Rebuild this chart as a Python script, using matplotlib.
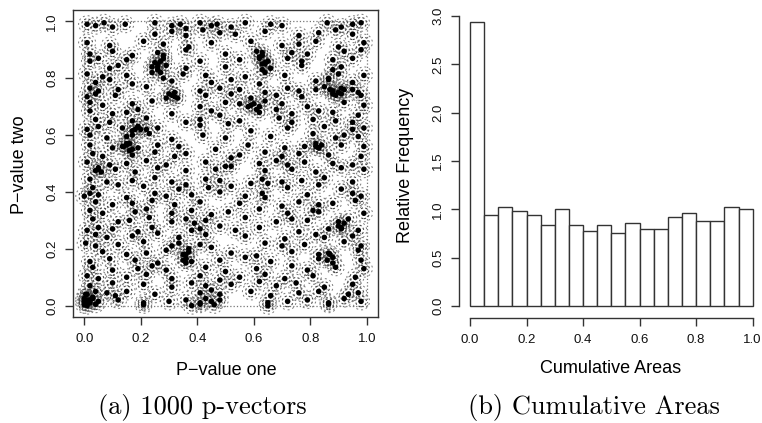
import numpy as np
import matplotlib
matplotlib.use("Agg")
import matplotlib.pyplot as plt

# (a) p-vectors (p-value one, p-value two of each dot)
row_p1 = [
    [0.01, 0.04, 0.07, 0.10, 0.145, 0.25, 0.31, 0.34, 0.36, 0.41, 0.45, 0.47, 0.52, 0.57, 0.66, 0.70, 0.86, 0.91, 0.95, 0.98],
    [0.25, 0.31, 0.36, 0.42, 0.48, 0.535, 0.64, 0.76, 0.83, 0.89, 0.95],
    [0.01, 0.09, 0.21, 0.28, 0.37, 0.45, 0.59, 0.70, 0.76, 0.82, 0.90, 0.99],
    [0.02, 0.10, 0.17, 0.26, 0.36, 0.50, 0.61, 0.63, 0.735, 0.79, 0.92, 0.98],
    [0.02, 0.05, 0.15, 0.25, 0.28, 0.41, 0.55, 0.62, 0.64, 0.72, 0.77, 0.88, 0.95],
    [0.09, 0.12, 0.24, 0.26, 0.29, 0.36, 0.50, 0.63, 0.66, 0.77, 0.88, 0.91],
    [0.01, 0.065, 0.15, 0.24, 0.28, 0.35, 0.43, 0.57, 0.64, 0.71, 0.865, 0.90, 0.99],
    [0.04, 0.09, 0.17, 0.31, 0.45, 0.52, 0.62, 0.82, 0.865, 0.95],
    [0.02, 0.05, 0.12, 0.22, 0.41, 0.48, 0.55, 0.64, 0.72, 0.76, 0.82, 0.85, 0.88, 0.91, 0.95, 0.97],
    [0.01, 0.04, 0.11, 0.29, 0.30, 0.32, 0.43, 0.52, 0.59, 0.68, 0.77, 0.88, 0.98],
    [0.02, 0.065, 0.17, 0.24, 0.41, 0.50, 0.55, 0.59, 0.64, 0.70, 0.79, 0.92, 0.99],
    [0.02, 0.10, 0.15, 0.19, 0.31, 0.45, 0.48, 0.62, 0.68, 0.735, 0.83, 0.88, 0.97],
    [0.04, 0.09, 0.17, 0.22, 0.36, 0.41, 0.51, 0.55, 0.69, 0.735, 0.81, 0.89, 0.95],
    [0.01, 0.05, 0.135, 0.17, 0.19, 0.22, 0.26, 0.41, 0.59, 0.72, 0.85, 0.95, 0.99],
    [0.02, 0.08, 0.15, 0.23, 0.31, 0.42, 0.50, 0.66, 0.81, 0.89, 0.92, 0.97],
    [0.02, 0.10, 0.135, 0.15, 0.19, 0.26, 0.335, 0.465, 0.58, 0.71, 0.78, 0.82, 0.83, 0.91, 0.99],
    [0.03, 0.065, 0.17, 0.25, 0.32, 0.36, 0.52, 0.55, 0.64, 0.70, 0.76, 0.865, 0.98],
    [0.01, 0.09, 0.15, 0.22, 0.29, 0.43, 0.50, 0.62, 0.68, 0.72, 0.78, 0.88, 0.95],
    [0.04, 0.05, 0.11, 0.18, 0.26, 0.36, 0.465, 0.52, 0.64, 0.735, 0.82, 0.91, 0.99],
    [0.02, 0.08, 0.17, 0.25, 0.31, 0.43, 0.48, 0.59, 0.63, 0.70, 0.77, 0.85, 0.95],
    [0.03, 0.12, 0.21, 0.335, 0.36, 0.44, 0.52, 0.65, 0.72, 0.83, 0.91],
    [0.00, 0.02, 0.05, 0.15, 0.25, 0.29, 0.38, 0.48, 0.57, 0.63, 0.64, 0.79, 0.95, 0.98],
    [0.04, 0.10, 0.17, 0.24, 0.32, 0.41, 0.55, 0.70, 0.76, 0.83, 0.88, 0.96],
    [0.02, 0.065, 0.18, 0.22, 0.31, 0.38, 0.45, 0.51, 0.62, 0.72, 0.81, 0.83, 0.99],
    [0.03, 0.12, 0.16, 0.23, 0.31, 0.36, 0.39, 0.43, 0.57, 0.68, 0.735, 0.79, 0.90, 0.935],
    [0.01, 0.05, 0.10, 0.19, 0.24, 0.38, 0.41, 0.48, 0.535, 0.62, 0.76, 0.865, 0.91, 0.97],
    [0.04, 0.08, 0.17, 0.26, 0.335, 0.43, 0.57, 0.71, 0.82, 0.85, 0.95],
    [0.005, 0.04, 0.12, 0.21, 0.31, 0.335, 0.41, 0.45, 0.64, 0.70, 0.78, 0.92, 0.98],
    [0.065, 0.15, 0.22, 0.29, 0.35, 0.37, 0.52, 0.61, 0.735, 0.83, 0.865, 0.97],
    [0.02, 0.09, 0.18, 0.26, 0.36, 0.38, 0.48, 0.57, 0.66, 0.83, 0.88, 0.98],
    [0.03, 0.10, 0.19, 0.24, 0.29, 0.43, 0.50, 0.61, 0.735, 0.79, 0.89, 0.99],
    [0.01, 0.05, 0.15, 0.22, 0.31, 0.41, 0.48, 0.55, 0.64, 0.71, 0.81, 0.96],
    [0.02, 0.10, 0.21, 0.31, 0.38, 0.43, 0.52, 0.62, 0.68, 0.75, 0.85, 0.95],
    [0.005, 0.04, 0.08, 0.11, 0.15, 0.25, 0.41, 0.45, 0.48, 0.59, 0.66, 0.76, 0.83, 0.935, 0.97],
    [0.00, 0.01, 0.02, 0.03, 0.05, 0.12, 0.21, 0.30, 0.36, 0.41, 0.43, 0.45, 0.48, 0.65, 0.72, 0.79, 0.865, 0.92, 0.98],
    [0.00, 0.01, 0.04, 0.21, 0.38, 0.41, 0.46, 0.65, 0.865],
]
row_p2 = [
    [0.99, 0.985, 0.995, 0.98, 0.99, 0.995, 0.985, 0.99, 0.975, 0.995, 0.985, 0.99, 0.98, 0.995, 0.99, 0.985, 0.995, 0.98, 0.99, 0.995],
    [0.955, 0.965, 0.95, 0.97, 0.96, 0.955, 0.965, 0.95, 0.96, 0.97, 0.955],
    [0.925, 0.915, 0.93, 0.92, 0.91, 0.925, 0.93, 0.915, 0.92, 0.93, 0.91, 0.925],
    [0.885, 0.895, 0.88, 0.89, 0.90, 0.885, 0.895, 0.88, 0.89, 0.885, 0.895, 0.90],
    [0.86, 0.87, 0.865, 0.855, 0.87, 0.86, 0.865, 0.875, 0.855, 0.87, 0.86, 0.865, 0.87],
    [0.835, 0.845, 0.84, 0.83, 0.845, 0.835, 0.84, 0.85, 0.835, 0.845, 0.83, 0.84],
    [0.815, 0.805, 0.81, 0.82, 0.80, 0.815, 0.81, 0.805, 0.82, 0.81, 0.80, 0.815, 0.81],
    [0.785, 0.795, 0.78, 0.79, 0.785, 0.795, 0.78, 0.79, 0.795, 0.785],
    [0.765, 0.755, 0.76, 0.77, 0.755, 0.765, 0.76, 0.75, 0.765, 0.755, 0.76, 0.77, 0.755, 0.765, 0.76, 0.75],
    [0.735, 0.745, 0.74, 0.73, 0.745, 0.735, 0.74, 0.745, 0.73, 0.74, 0.735, 0.745, 0.74],
    [0.715, 0.705, 0.71, 0.72, 0.70, 0.715, 0.71, 0.705, 0.72, 0.71, 0.70, 0.715, 0.705],
    [0.685, 0.675, 0.68, 0.69, 0.675, 0.685, 0.67, 0.68, 0.69, 0.675, 0.685, 0.68, 0.67],
    [0.655, 0.645, 0.65, 0.66, 0.645, 0.655, 0.64, 0.65, 0.66, 0.645, 0.655, 0.65, 0.645],
    [0.62, 0.63, 0.625, 0.615, 0.63, 0.62, 0.625, 0.635, 0.615, 0.625, 0.63, 0.62, 0.625],
    [0.60, 0.59, 0.595, 0.605, 0.585, 0.60, 0.59, 0.595, 0.605, 0.59, 0.60, 0.595],
    [0.565, 0.555, 0.56, 0.57, 0.555, 0.565, 0.56, 0.55, 0.565, 0.555, 0.56, 0.57, 0.555, 0.565, 0.56],
    [0.535, 0.525, 0.53, 0.54, 0.525, 0.535, 0.52, 0.53, 0.54, 0.525, 0.535, 0.53, 0.525],
    [0.505, 0.495, 0.50, 0.51, 0.495, 0.505, 0.49, 0.50, 0.51, 0.495, 0.505, 0.50, 0.495],
    [0.475, 0.485, 0.48, 0.47, 0.485, 0.475, 0.48, 0.49, 0.475, 0.48, 0.47, 0.485, 0.48],
    [0.445, 0.435, 0.44, 0.45, 0.435, 0.445, 0.44, 0.43, 0.445, 0.435, 0.44, 0.45, 0.435],
    [0.415, 0.425, 0.42, 0.41, 0.425, 0.415, 0.42, 0.43, 0.415, 0.425, 0.41],
    [0.385, 0.395, 0.39, 0.38, 0.395, 0.385, 0.39, 0.40, 0.385, 0.395, 0.38, 0.39, 0.395, 0.385],
    [0.365, 0.355, 0.36, 0.37, 0.355, 0.365, 0.36, 0.35, 0.365, 0.355, 0.36, 0.37],
    [0.335, 0.325, 0.33, 0.34, 0.325, 0.335, 0.32, 0.33, 0.34, 0.325, 0.335, 0.33, 0.325],
    [0.305, 0.295, 0.30, 0.31, 0.295, 0.305, 0.29, 0.30, 0.31, 0.295, 0.305, 0.30, 0.295, 0.305],
    [0.265, 0.275, 0.27, 0.26, 0.275, 0.265, 0.27, 0.28, 0.265, 0.275, 0.26, 0.27, 0.275, 0.265],
    [0.25, 0.24, 0.245, 0.255, 0.24, 0.25, 0.245, 0.235, 0.25, 0.24, 0.245],
    [0.22, 0.21, 0.215, 0.225, 0.21, 0.22, 0.215, 0.205, 0.22, 0.21, 0.215, 0.225, 0.21],
    [0.19, 0.18, 0.185, 0.195, 0.18, 0.19, 0.185, 0.175, 0.19, 0.18, 0.185, 0.195],
    [0.155, 0.165, 0.16, 0.15, 0.165, 0.155, 0.16, 0.17, 0.155, 0.165, 0.15, 0.16],
    [0.135, 0.125, 0.13, 0.14, 0.125, 0.135, 0.12, 0.13, 0.14, 0.125, 0.135, 0.13],
    [0.105, 0.095, 0.10, 0.11, 0.095, 0.105, 0.09, 0.10, 0.11, 0.095, 0.105, 0.10],
    [0.07, 0.08, 0.075, 0.065, 0.08, 0.07, 0.075, 0.085, 0.07, 0.08, 0.065, 0.075],
    [0.04, 0.05, 0.045, 0.035, 0.05, 0.04, 0.045, 0.055, 0.04, 0.05, 0.035, 0.045, 0.05, 0.04, 0.045],
    [0.015, 0.02, 0.01, 0.025, 0.015, 0.02, 0.01, 0.015, 0.02, 0.01, 0.025, 0.015, 0.02, 0.01, 0.015, 0.02, 0.01, 0.025, 0.015],
    [0.003, 0.0, 0.005, 0.003, 0.0, 0.005, 0.003, 0.0, 0.005],
]
# extra dots inside the darkest clusters
cluster_p1 = [0.14, 0.15, 0.16, 0.17, 0.18, 0.19, 0.20, 0.17, 0.16, 0.26, 0.27, 0.28, 0.27, 0.26,
              0.01, 0.02, 0.00, 0.03, 0.01, 0.62, 0.63, 0.64, 0.65, 0.63, 0.87, 0.88, 0.90, 0.91,
              0.92, 0.89, 0.58, 0.60, 0.61, 0.62, 0.35, 0.36, 0.37, 0.36, 0.82, 0.83, 0.84, 0.33,
              0.32, 0.31, 0.86, 0.88, 0.87, 0.90, 0.91, 0.92, 0.05, 0.06]
cluster_p2 = [0.56, 0.565, 0.57, 0.60, 0.62, 0.63, 0.62, 0.55, 0.545, 0.84, 0.86, 0.88, 0.82, 0.85,
              0.01, 0.02, 0.025, 0.03, 0.04, 0.87, 0.89, 0.85, 0.86, 0.83, 0.76, 0.755, 0.75, 0.745,
              0.76, 0.74, 0.70, 0.71, 0.69, 0.70, 0.16, 0.18, 0.20, 0.15, 0.56, 0.555, 0.565, 0.73,
              0.75, 0.74, 0.16, 0.17, 0.18, 0.28, 0.27, 0.29, 0.48, 0.47]

# (b) relative frequency of the cumulative areas, 20 bins of width 0.05
rel_freq = [2.94, 0.94, 1.02, 0.98, 0.94, 0.84, 1.00, 0.84, 0.78, 0.84,
            0.76, 0.86, 0.80, 0.80, 0.92, 0.96, 0.88, 0.88, 1.02, 1.00]

unit_ticks = [0.0, 0.2, 0.4, 0.6, 0.8, 1.0]
freq_ticks = [0.0, 0.5, 1.0, 1.5, 2.0, 2.5, 3.0]

p_one = np.concatenate([np.concatenate(row_p1), cluster_p1])
p_two = np.concatenate([np.concatenate(row_p2), cluster_p2])

plt.rcParams['font.family'] = ['Liberation Sans', 'DejaVu Sans']
axis_col = '#333333'

fig = plt.figure(figsize=(7.62, 4.23), dpi=100)

# ---- (a) scatter ----
ax1 = fig.add_axes([73/762, 1-317/423, 305/762, 307/423])
ax1.scatter(p_one, p_two, s=150, facecolors='none', edgecolors='#7a7a7a',
            linewidths=0.7, linestyles=(0, (2, 3)), zorder=2)
ax1.scatter(p_one, p_two, s=60, facecolors='none', edgecolors='#4a4a4a',
            linewidths=0.8, linestyles=(0, (2, 2)), zorder=2)
ax1.scatter(p_one, p_two, s=16, color='black', edgecolors='none', zorder=3)
lo, hi = unit_ticks[0], unit_ticks[-1]
ax1.hlines([lo, hi], lo, hi, colors='#777777', linestyles=':', linewidth=0.9, zorder=1)
ax1.vlines([lo, hi], lo, hi, colors='#777777', linestyles=':', linewidth=0.9, zorder=1)
ax1.set_xlim(-0.04, 1.04)
ax1.set_ylim(-0.04, 1.04)
ax1.set_xticks(unit_ticks)
ax1.set_yticks(unit_ticks)
ax1.set_xticklabels([f"{t:.1f}" for t in unit_ticks])
ax1.set_yticklabels([f"{t:.1f}" for t in unit_ticks], rotation=90, va='center')
for sp in ax1.spines.values():
    sp.set_color(axis_col)
    sp.set_linewidth(1.0)

# ---- (b) histogram ----
edges = np.linspace(0, 1, len(rel_freq) + 1)
ax2 = fig.add_axes([458.7/762, 1-317.6/423, 305.3/762, 313.2/423])
ax2.bar(edges[:-1], rel_freq, width=np.diff(edges), align='edge',
        facecolor='white', edgecolor=axis_col, linewidth=1.0)
ax2.set_xlim(-0.04, 1.04)
ax2.set_ylim(-0.12, 3.12)
ax2.set_xticks(unit_ticks)
ax2.set_yticks(freq_ticks)
ax2.set_xticklabels([f"{t:.1f}" for t in unit_ticks])
ax2.set_yticklabels([f"{t:.1f}" for t in freq_ticks], rotation=90, va='center')
ax2.spines['top'].set_visible(False)
ax2.spines['right'].set_visible(False)
ax2.spines['left'].set_bounds(freq_ticks[0], freq_ticks[-1])
ax2.spines['bottom'].set_bounds(unit_ticks[0], unit_ticks[-1])
for sp in ('left', 'bottom'):
    ax2.spines[sp].set_color(axis_col)
    ax2.spines[sp].set_linewidth(1.0)

for ax in (ax1, ax2):
    ax.tick_params(direction='out', length=5.5, width=1.0, color=axis_col,
                   labelsize=9.5, labelcolor='#111111')
    ax.tick_params(axis='x', pad=6)
    ax.tick_params(axis='y', pad=5)

# axis titles and captions
fig.text(226/762, 1-370/423, "P\u2212value one", fontsize=13, ha='center', va='center')
fig.text(20/762, 1-165/423, "P\u2212value two", fontsize=13, ha='center', va='center', rotation=90)
fig.text(611/762, 1-368/423, "Cumulative Areas", fontsize=13, ha='center', va='center')
fig.text(405/762, 1-165/423, "Relative Frequency", fontsize=13, ha='center', va='center', rotation=90)
fig.text(202/762, 1-414/423, "(a) 1000 p-vectors", fontsize=19, family='cmr10',
         ha='center', va='baseline')
fig.text(594/762, 1-414/423, "(b) Cumulative Areas", fontsize=19, family='cmr10',
         ha='center', va='baseline')

fig.savefig("out.png", dpi=100)
